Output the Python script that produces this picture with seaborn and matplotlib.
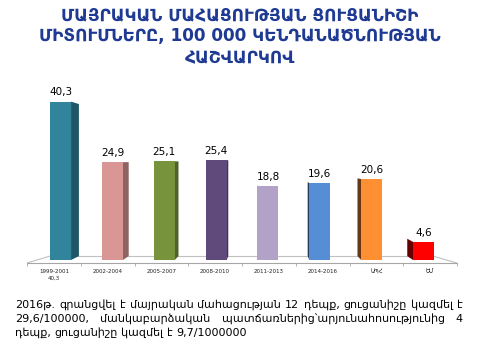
import matplotlib
matplotlib.use("Agg")
import matplotlib.pyplot as plt
import matplotlib.colors as mcolors
from matplotlib.patches import Polygon
import numpy as np
import seaborn as sns

# --- data ---
periods = ["1999-2001\n40,3", "2002-2004", "2005-2007", "2008-2010",
           "2011-2013", "2014-2016", "ԱՊՀ", "ԵՄ"]
rates = [40.3, 24.9, 25.1, 25.4, 18.8, 19.6, 20.6, 4.6]
bar_colors = ["#31849B", "#D99694", "#77933C", "#604A7B",
              "#B3A2C7", "#558ED5", "#FF8F33", "#FF0000"]

title = ("ՄԱՅՐԱԿԱՆ ՄԱՀԱՑՈՒԹՅԱՆ ՑՈՒՑԱՆԻՇԻ\n"
         "ՄԻՏՈՒՄՆԵՐԸ, 100 000 ԿԵՆԴԱՆԱԾՆՈՒԹՅԱՆ\n"
         "ՀԱՇՎԱՐԿՈՎ")
note_lines = [
    "2016թ. գրանցվել է մայրական մահացության 12 դեպք, ցուցանիշը կազմել է",
    "29,6/100000, մանկաբարձական պատճառներից՝արյունահոսությունից 4",
    "դեպք, ցուցանիշը կազմել է 9,7/1000000",
]

W, H = 480, 360


def justify(fig, renderer, text, x0, x1, y, stretch=True, **kw):
    """Place words of one line so that they fill x0..x1 (pixels)."""
    words = text.split(" ")
    objs = [fig.text(0, y / H, w, va="center", ha="left", **kw) for w in words]
    widths = [t.get_window_extent(renderer).width for t in objs]
    normal_gap = objs[0].get_fontsize() * 100 / 72 * 0.32
    if stretch and len(words) > 1:
        gap = max((x1 - x0 - sum(widths)) / (len(words) - 1), normal_gap * 0.6)
    else:
        gap = normal_gap
    x = x0
    for t, w in zip(objs, widths):
        t.set_x(x / W)
        x += w + gap


def add_sides(ax, vp=(4.0, 25.0), f=0.04):
    """Fake 3D side faces, pulled towards a vanishing point."""
    to_px = ax.transData
    inv = to_px.inverted()
    vpx = np.array(to_px.transform(vp))
    for bar in list(ax.patches):
        x0, w, h = bar.get_x(), bar.get_width(), bar.get_height()
        cx = x0 + w / 2
        edge = x0 + w if cx < vp[0] else x0
        front = to_px.transform([(edge, 0), (edge, h)])
        back = front + f * (vpx - front)
        pts = inv.transform([front[0], front[1], back[1], back[0]])
        rgb = np.array(mcolors.to_rgb(bar.get_facecolor()))
        shade = 0.66 if cx < vp[0] else 0.4
        ax.add_patch(Polygon(pts, closed=True, facecolor=rgb * shade,
                             edgecolor="none", zorder=bar.get_zorder() - 0.5))


def main():
    sns.set_theme(style="white")
    plt.rcParams["font.family"] = ["DejaVu Sans"]

    fig = plt.figure(figsize=(4.8, 3.6), dpi=100)
    fig.patch.set_facecolor("white")

    y_low, y_high = -0.76, 45
    bottom = 97 / H
    height = (y_high - y_low) * 3.93 / H

    # floor / category axis
    axf = fig.add_axes([27 / W, bottom, 430 / W, height])
    axf.set_xlim(-0.5, 7.5)
    axf.set_ylim(y_low, y_high)
    axf.set_facecolor("none")
    for s in ["top", "left", "right"]:
        axf.spines[s].set_visible(False)
    axf.spines["bottom"].set_color("#A6A6A6")
    axf.spines["bottom"].set_linewidth(0.8)
    axf.set_yticks([])
    axf.set_xticks(range(len(periods)))
    axf.set_xticklabels(periods, fontsize=4, color="#222222", linespacing=1.3)
    axf.set_xticks(np.arange(-0.5, len(periods)), minor=True)
    axf.tick_params(axis="x", which="major", length=0, pad=4.5)
    axf.tick_params(axis="x", which="minor", length=2.2, width=0.6,
                    color="#A6A6A6", direction="out", bottom=True)
    floor_c = "#C0C0C0"
    axf.plot([-0.074, 7.05], [1.0, 1.0], color=floor_c, lw=0.8)
    axf.plot([-0.5, -0.074], [y_low, 1.0], color=floor_c, lw=0.8)
    axf.plot([7.05, 7.5], [1.0, y_low], color=floor_c, lw=0.8)

    # bars
    ax = fig.add_axes([34.6 / W, bottom, 414.9 / W, height])
    sns.barplot(x=periods, y=rates, hue=periods, palette=bar_colors,
                saturation=1, legend=False, width=0.405, linewidth=0,
                ax=ax, zorder=3)
    ax.set_xlim(-0.5, 7.5)
    ax.set_ylim(y_low, y_high)
    ax.set_facecolor("none")
    ax.axis("off")
    add_sides(ax)

    for cont in ax.containers:
        vals = cont.datavalues
        ax.bar_label(cont, labels=[f"{v:.1f}".replace(".", ",") for v in vals],
                     padding=3, fontsize=7.5, color="black")

    fig.text(0.5, 1 - 36.5 / H, title, ha="center", va="center",
             multialignment="center", fontsize=12.2, fontweight="bold",
             color="#1F3A93", linespacing=1.27)

    fig.canvas.draw()
    renderer = fig.canvas.get_renderer()
    ys = [H - 305, H - 319, H - 333]
    for i, (line, y) in enumerate(zip(note_lines, ys)):
        justify(fig, renderer, line, 15, 463, y, stretch=(i < 2),
                fontsize=8, color="black")

    fig.savefig("out.png", dpi=100)
    plt.close(fig)


if __name__ == "__main__":
    main()
